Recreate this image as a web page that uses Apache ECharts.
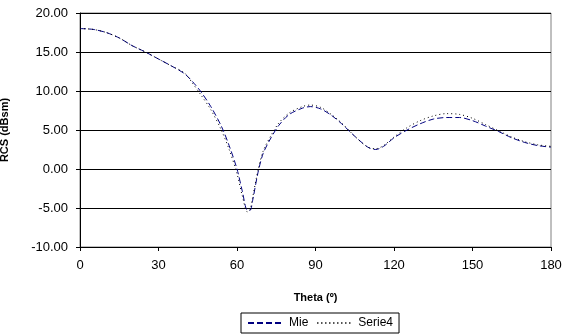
<!DOCTYPE html>
<html>
<head>
<meta charset="utf-8">
<script src="https://cdn.jsdelivr.net/npm/echarts@6/dist/echarts.min.js"></script>
<style>
  html, body { margin: 0; padding: 0; background: #fff; }
  #chart { width: 563px; height: 335px; }
</style>
</head>
<body>
<div id="chart"></div>
<script>
// angles (degrees) and RCS values
const theta = [0, 5, 10, 15, 20, 25, 30, 35, 40, 43, 46, 50, 54, 57, 60, 62, 64, 65, 66, 68, 70, 73, 76, 80, 85, 88, 92, 96, 100, 105, 110, 113, 116, 120, 125, 130, 135, 140, 145, 150, 155, 160, 165, 170, 175, 180]
const mie = [18.0, 17.9, 17.5, 16.8, 15.8, 15.0, 14.1, 13.2, 12.2, 11.2, 10.0, 8.0, 5.5, 3.0, 0.0, -2.8, -5.3, -5.3, -4.0, -0.5, 2.0, 4.0, 5.6, 7.0, 7.8, 8.0, 7.7, 6.9, 5.8, 4.2, 2.8, 2.5, 2.9, 4.0, 5.0, 5.8, 6.4, 6.6, 6.6, 6.2, 5.5, 4.8, 4.0, 3.4, 3.0, 2.8]
const serie4 = [18.0, 17.9, 17.5, 16.8, 15.8, 15.0, 14.1, 13.2, 12.3, 11.0, 9.6, 7.6, 5.0, 2.5, -0.6, -3.4, -5.5, -5.2, -3.6, -0.2, 2.3, 4.3, 5.9, 7.2, 8.0, 8.2, 7.9, 7.0, 5.9, 4.2, 2.8, 2.6, 3.0, 4.1, 5.3, 6.2, 6.8, 7.1, 7.0, 6.5, 5.7, 4.9, 4.1, 3.5, 3.1, 2.9]
const xTicks = [0, 30, 60, 90, 120, 150, 180]

const font = 'Liberation Sans, Arial, sans-serif'
const chart = echarts.init(document.getElementById('chart'), null, { renderer: 'canvas' })

chart.setOption({
    animation: false,
    grid: {
        left: 80, right: 12, top: 13, bottom: 88,
        containLabel: false,
        outerBoundsMode: 'none',
        show: true, borderColor: '#808080', borderWidth: 1
    },
    legend: {
        left: 241, top: 313,
        padding: [4, 6],
        itemGap: 8,
        itemWidth: 36, itemHeight: 10,
        borderColor: '#000', borderWidth: 1,
        itemStyle: { opacity: 0 },
        textStyle: { fontFamily: font, fontSize: 12, color: '#000' },
        data: ['Mie', 'Serie4']
    },
    xAxis: {
        type: 'value',
        min: 0, max: 180, interval: 30,
        name: 'Theta (º)',
        nameLocation: 'middle',
        nameGap: 45,
        nameTextStyle: { fontFamily: font, fontSize: 11, fontWeight: 'bold', color: '#000' },
        axisLine: { onZero: false, lineStyle: { color: '#000', width: 1 } },
        axisTick: { show: true, length: 4, lineStyle: { color: '#000' } },
        axisLabel: { fontFamily: font, fontSize: 13, color: '#000', margin: 12,
            formatter: v => xTicks.includes(v) ? String(v) : '' },
        splitLine: { show: false }
    },
    yAxis: {
        type: 'value',
        min: -10, max: 20, interval: 5,
        name: 'RCS (dBsm)',
        nameLocation: 'middle',
        nameGap: 70,
        nameTextStyle: { fontFamily: font, fontSize: 11, fontWeight: 'bold', color: '#000' },
        axisLine: { show: true, lineStyle: { color: '#000', width: 1 } },
        axisTick: { show: true, length: 4, lineStyle: { color: '#000' } },
        axisLabel: { fontFamily: font, fontSize: 13, color: '#000', margin: 12,
            formatter: v => v.toFixed(2) },
        splitLine: { show: true, lineStyle: { color: '#000', width: 1 } }
    },
    series: [
        {
            name: 'Mie',
            type: 'line',
            smooth: 0.3,
            symbol: 'none',
            data: theta.map((t, i) => [t, mie[i]]),
            color: '#000080',
            lineStyle: { color: '#000080', width: 1, type: [6, 3] }
        },
        {
            name: 'Serie4',
            type: 'line',
            smooth: 0.3,
            symbol: 'none',
            data: theta.map((t, i) => [t, serie4[i]]),
            color: '#000',
            lineStyle: { color: '#000', width: 1, type: [1, 3] }
        }
    ]
})
</script>
</body>
</html>
